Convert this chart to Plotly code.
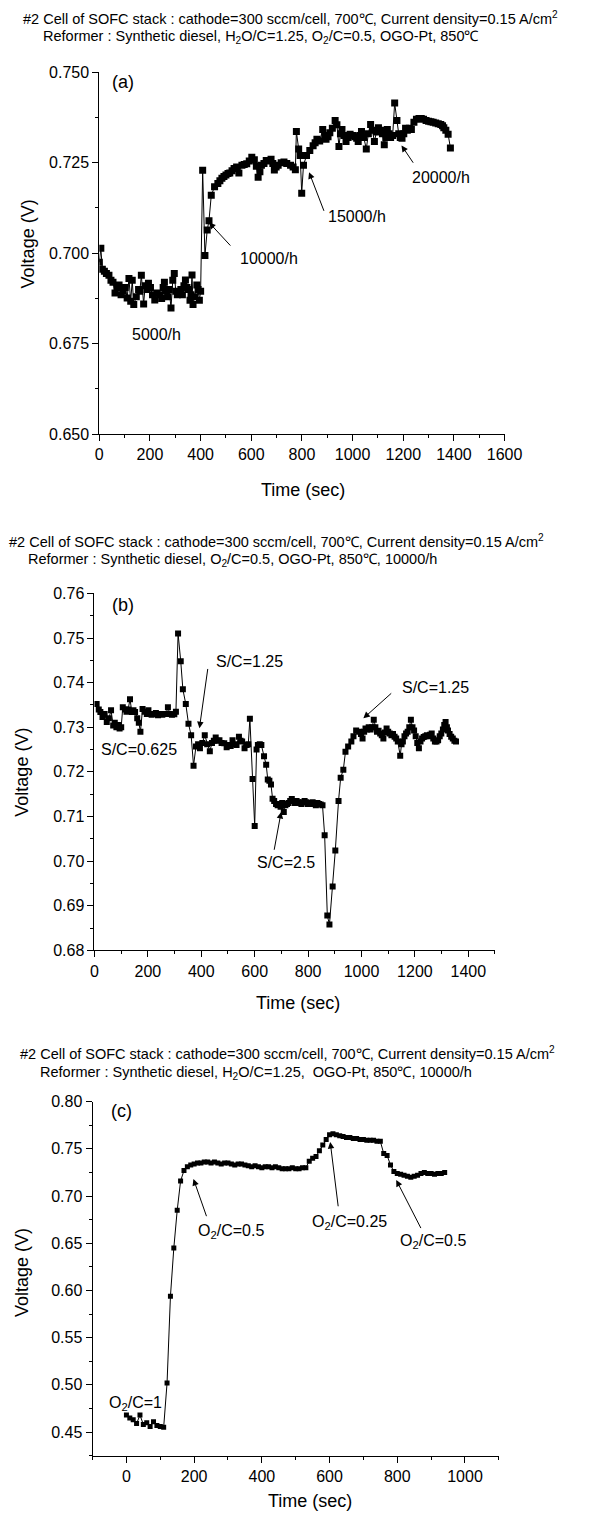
import plotly.graph_objects as go

# ---------------- data ----------------
# (a) space-velocity steps 5000/h -> 10000/h -> 15000/h -> 20000/h
time_a = [0, 6, 12, 20, 28, 38, 46, 54, 62, 70, 78, 86, 94, 102, 110, 117, 124, 130, 136, 146,
          155, 160, 166, 175, 181, 188, 194, 202, 210, 219, 228, 238, 246, 252, 257, 264, 270, 276, 283, 290,
          296, 302, 308, 316, 322, 328, 334, 340, 346, 352, 358, 362, 366, 370, 376, 385, 390, 395, 400, 408,
          417, 426, 433, 442, 455, 468, 476, 484, 492, 500, 508, 515, 524, 532, 542, 551, 563, 572, 582, 592,
          602, 612, 620, 627, 634, 640, 650, 659, 668, 678, 685, 691, 698, 706, 718, 729, 740, 755, 765, 774,
          778, 787, 793, 799, 806, 818, 831, 844, 852, 859, 870, 882, 890, 895, 903, 910, 920, 931, 938, 946,
          952, 958, 966, 974, 982, 990, 1000, 1009, 1016, 1022, 1028, 1035, 1044, 1054, 1062, 1071, 1078, 1086, 1094, 1102,
          1110, 1118, 1125, 1131, 1137, 1144, 1150, 1158, 1166, 1175, 1182, 1188, 1195, 1202, 1209, 1216, 1224, 1232, 1242, 1252,
          1262, 1271, 1280, 1290, 1300, 1309, 1318, 1328, 1338, 1348, 1355, 1360, 1368, 1377, 1386]
volt_a = [0.6975, 0.7014, 0.6956, 0.6950, 0.6944, 0.6939, 0.6925, 0.6920, 0.6890, 0.6905, 0.6912, 0.6885, 0.6895, 0.6905, 0.6876, 0.6930, 0.6867, 0.6925, 0.6858, 0.6880,
          0.6900, 0.6895, 0.6939, 0.6860, 0.6910, 0.6900, 0.6917, 0.6905, 0.6885, 0.6871, 0.6890, 0.6885, 0.6875, 0.6905, 0.6920, 0.6895, 0.6880, 0.6900, 0.6849, 0.6925,
          0.6944, 0.6895, 0.6885, 0.6890, 0.6900, 0.6885, 0.6910, 0.6926, 0.6905, 0.6900, 0.6870, 0.6885, 0.6940, 0.6858, 0.6880, 0.6912, 0.6900, 0.6870, 0.6895, 0.7229,
          0.6994, 0.7064, 0.7090, 0.7160, 0.7184, 0.7193, 0.7200, 0.7207, 0.7212, 0.7216, 0.7220, 0.7222, 0.7228, 0.7234, 0.7238, 0.7222, 0.7243, 0.7245, 0.7247, 0.7255,
          0.7265, 0.7258, 0.7240, 0.7210, 0.7225, 0.7243, 0.7248, 0.7256, 0.7255, 0.7260, 0.7248, 0.7230, 0.7238, 0.7243, 0.7250, 0.7252, 0.7248, 0.7243, 0.7238, 0.7231,
          0.7336, 0.7288, 0.7270, 0.7166, 0.7243, 0.7270, 0.7284, 0.7297, 0.7305, 0.7315, 0.7310, 0.7342, 0.7325, 0.7315, 0.7322, 0.7333, 0.7345, 0.7367, 0.7355, 0.7295,
          0.7330, 0.7342, 0.7325, 0.7309, 0.7320, 0.7329, 0.7325, 0.7322, 0.7318, 0.7309, 0.7325, 0.7336, 0.7320, 0.7288, 0.7330, 0.7356, 0.7340, 0.7309, 0.7335, 0.7347,
          0.7340, 0.7330, 0.7300, 0.7320, 0.7342, 0.7330, 0.7320, 0.7325, 0.7415, 0.7367, 0.7330, 0.7320, 0.7318, 0.7330, 0.7345, 0.7340, 0.7345, 0.7342, 0.7362, 0.7370,
          0.7372, 0.7372, 0.7370, 0.7367, 0.7365, 0.7363, 0.7362, 0.7360, 0.7358, 0.7356, 0.7352, 0.7347, 0.7340, 0.7329, 0.7291]

# (b) steam-to-carbon steps 0.625 -> 1.25 -> 2.5 -> 1.25
time_b = [8, 16, 22, 30, 38, 46, 54, 62, 70, 76, 82, 88, 94, 100, 106, 114, 120, 126, 133, 140,
          146, 152, 160, 166, 172, 180, 188, 196, 202, 206, 214, 222, 230, 238, 246, 254, 262, 268, 275, 282,
          290, 299, 305, 313, 323, 331, 342, 352, 362, 371, 380, 388, 395, 404, 413, 422, 432, 440, 447, 454,
          461, 468, 476, 486, 495, 504, 510, 517, 524, 532, 541, 547, 553, 562, 570, 576, 582, 592, 600, 607,
          612, 619, 625, 635, 643, 649, 655, 661, 667, 673, 680, 686, 691, 697, 703, 709, 715, 721, 727, 733,
          739, 745, 751, 757, 763, 769, 775, 781, 787, 793, 799, 805, 811, 817, 823, 829, 835, 841, 847, 854,
          862, 872, 880, 892, 902, 914, 922, 932, 940, 950, 962, 970, 980, 991, 998, 1004, 1010, 1015, 1021, 1027,
          1034, 1040, 1046, 1052, 1058, 1064, 1070, 1076, 1082, 1088, 1094, 1100, 1106, 1112, 1118, 1124, 1130, 1136, 1145, 1150,
          1155, 1161, 1167, 1173, 1179, 1185, 1191, 1197, 1203, 1209, 1215, 1221, 1227, 1233, 1239, 1245, 1251, 1257, 1263, 1269,
          1275, 1281, 1287, 1293, 1299, 1305, 1310, 1315, 1320, 1324, 1330, 1336, 1342, 1348, 1354]
volt_b = [0.7352, 0.7340, 0.7334, 0.7323, 0.7330, 0.7312, 0.7320, 0.7338, 0.7304, 0.7310, 0.7300, 0.7305, 0.7297, 0.7300, 0.7345, 0.7340, 0.7335, 0.7340, 0.7363, 0.7334,
          0.7338, 0.7334, 0.7320, 0.7310, 0.7290, 0.7341, 0.7335, 0.7330, 0.7338, 0.7330, 0.7328, 0.7330, 0.7332, 0.7327, 0.7330, 0.7328, 0.7330, 0.7330, 0.7345, 0.7330,
          0.7328, 0.7329, 0.7335, 0.7510, 0.7448, 0.7385, 0.7352, 0.7308, 0.7282, 0.7214, 0.7257, 0.7262, 0.7253, 0.7265, 0.7282, 0.7262, 0.7246, 0.7265, 0.7270, 0.7277,
          0.7270, 0.7271, 0.7265, 0.7264, 0.7255, 0.7260, 0.7258, 0.7271, 0.7262, 0.7260, 0.7279, 0.7270, 0.7268, 0.7253, 0.7260, 0.7262, 0.7319, 0.7184, 0.7079, 0.7250,
          0.7260, 0.7262, 0.7260, 0.7235, 0.7216, 0.7183, 0.7180, 0.7172, 0.7140, 0.7135, 0.7128, 0.7125, 0.7128, 0.7122, 0.7130, 0.7110, 0.7125, 0.7128, 0.7130, 0.7135,
          0.7139, 0.7135, 0.7130, 0.7135, 0.7132, 0.7130, 0.7128, 0.7132, 0.7135, 0.7132, 0.7128, 0.7130, 0.7128, 0.7132, 0.7128, 0.7125, 0.7130, 0.7128, 0.7127, 0.7125,
          0.7058, 0.6878, 0.6858, 0.6943, 0.7024, 0.7135, 0.7187, 0.7205, 0.7245, 0.7257, 0.7268, 0.7280, 0.7293, 0.7290, 0.7285, 0.7275, 0.7290, 0.7297, 0.7295, 0.7300,
          0.7295, 0.7300, 0.7317, 0.7300, 0.7290, 0.7292, 0.7286, 0.7282, 0.7275, 0.7288, 0.7297, 0.7290, 0.7286, 0.7282, 0.7285, 0.7279, 0.7275, 0.7268, 0.7236, 0.7262,
          0.7268, 0.7280, 0.7286, 0.7290, 0.7300, 0.7317, 0.7300, 0.7293, 0.7280, 0.7265, 0.7253, 0.7268, 0.7275, 0.7278, 0.7280, 0.7282, 0.7280, 0.7283, 0.7286, 0.7275,
          0.7268, 0.7268, 0.7271, 0.7280, 0.7286, 0.7295, 0.7305, 0.7312, 0.7300, 0.7293, 0.7285, 0.7279, 0.7275, 0.7270, 0.7268]

# (c) oxygen-to-carbon steps 1 -> 0.5 -> 0.25 -> 0.5
time_c = [0, 10, 20, 30, 40, 50, 60, 70, 80, 90, 100, 110, 120, 130, 140, 150, 160, 170, 180, 190,
          200, 210, 220, 230, 240, 250, 260, 270, 280, 290, 300, 310, 320, 330, 340, 350, 360, 370, 380, 390,
          400, 410, 420, 430, 440, 450, 460, 470, 480, 490, 500, 510, 520, 530, 540, 550, 560, 570, 580, 590,
          600, 610, 620, 630, 640, 650, 660, 670, 680, 690, 700, 710, 720, 730, 740, 750, 760, 770, 780, 790,
          800, 810, 820, 830, 840, 850, 860, 870, 880, 890, 900, 910, 920, 930, 940]
volt_c = [0.468, 0.465, 0.463, 0.459, 0.468, 0.458, 0.460, 0.456, 0.461, 0.457, 0.456, 0.455, 0.502, 0.594, 0.645, 0.685, 0.716, 0.727, 0.731, 0.733,
          0.734, 0.735, 0.735, 0.736, 0.736, 0.735, 0.736, 0.735, 0.734, 0.735, 0.735, 0.734, 0.733, 0.734, 0.734, 0.733, 0.732, 0.731, 0.732, 0.731,
          0.730, 0.731, 0.731, 0.730, 0.731, 0.730, 0.729, 0.729, 0.729, 0.730, 0.729, 0.729, 0.730, 0.730, 0.737, 0.740, 0.742, 0.748, 0.754, 0.760,
          0.765, 0.766, 0.765, 0.764, 0.763, 0.762, 0.762, 0.761, 0.761, 0.760, 0.760, 0.759, 0.759, 0.759, 0.758, 0.758, 0.745, 0.743, 0.733, 0.726,
          0.724, 0.723, 0.722, 0.721, 0.720, 0.721, 0.722, 0.724, 0.725, 0.724, 0.724, 0.723, 0.724, 0.724, 0.725]

HEAD1 = "#2 Cell of SOFC stack : cathode=300 sccm/cell, 700℃, Current density=0.15 A/cm<sup>2</sup>"
HEAD2_A = "Reformer : Synthetic diesel, H<sub>2</sub>O/C=1.25, O<sub>2</sub>/C=0.5, OGO-Pt, 850℃"
HEAD2_B = "Reformer : Synthetic diesel, O<sub>2</sub>/C=0.5, OGO-Pt, 850℃, 10000/h"
HEAD2_C = "Reformer : Synthetic diesel, H<sub>2</sub>O/C=1.25,  OGO-Pt, 850℃, 10000/h"

W, H = 590, 1524
SANS = "Liberation Sans, Arial, sans-serif"
NARROW = "Liberation Sans Narrow, Arial Narrow, Liberation Sans, sans-serif"


def px(x):
    return x / W


def py(y):
    return 1 - y / H


fig = go.Figure()

series = [
    (time_a, volt_a, "x", "y", 7),
    (time_b, volt_b, "x2", "y2", 6),
    (time_c, volt_c, "x3", "y3", 5),
]
for t, v, xa, ya, ms in series:
    fig.add_trace(go.Scatter(
        x=t, y=v, xaxis=xa, yaxis=ya, mode="lines+markers",
        line=dict(color="black", width=1),
        marker=dict(symbol="square", size=ms, color="black"),
        showlegend=False, hoverinfo="skip"))


def xaxis_style(dom, rng, dtick, minor, anchor, tick0=0):
    return dict(domain=dom, range=rng, anchor=anchor, showline=True, linecolor="black",
                linewidth=1, ticks="outside", ticklen=6, tickwidth=1, tickcolor="black",
                tick0=tick0, dtick=dtick, showgrid=False, zeroline=False,
                tickfont=dict(family=SANS, size=16, color="black"),
                minor=dict(ticks="outside", ticklen=3, tickcolor="black", dtick=minor, tick0=tick0))


def yaxis_style(dom, rng, dtick, minor, anchor, fmt, tick0):
    return dict(domain=dom, range=rng, anchor=anchor, showline=True, linecolor="black",
                linewidth=1, ticks="outside", ticklen=6, tickwidth=1, tickcolor="black",
                tick0=tick0, dtick=dtick, tickformat=fmt, showgrid=False, zeroline=False,
                tickfont=dict(family=SANS, size=16, color="black"),
                minor=dict(ticks="outside", ticklen=3, tickcolor="black", dtick=minor, tick0=tick0))


layout = dict(
    width=W, height=H, margin=dict(l=0, r=0, t=0, b=0),
    paper_bgcolor="white", plot_bgcolor="white",
    xaxis=xaxis_style([px(99), px(520)], [0, 1600], 200, 100, "y"),
    yaxis=yaxis_style([py(431), py(65)], [0.650, 0.750], 0.025, 0.0125, "x", ".3f", 0.650),
    xaxis2=xaxis_style([px(94), px(510)], [0, 1500], 200, 100, "y2"),
    yaxis2=yaxis_style([py(953), py(592)], [0.68, 0.76], 0.01, 0.005, "x2", ".2f", 0.68),
    xaxis3=xaxis_style([px(92), px(514)], [-100, 1100], 200, 100, "y3", tick0=0),
    yaxis3=yaxis_style([py(1464), py(1106)], [0.425, 0.80], 0.05, 0.025, "x3", ".2f", 0.45),
)
fig.update_layout(**layout)

ann = []


def text(x, y, s, size=16, xref="paper", yref="paper", xanchor="center", family=SANS, angle=0):
    ann.append(dict(x=x, y=y, xref=xref, yref=yref, text=s, showarrow=False,
                    xanchor=xanchor, yanchor="middle", textangle=angle,
                    font=dict(family=family, size=size, color="black")))


def arrow(xr, yr, head, tail):
    ann.append(dict(x=head[0], y=head[1], ax=tail[0], ay=tail[1], xref=xr, yref=yr,
                    axref=xr, ayref=yr, text="", showarrow=True, arrowhead=2,
                    arrowsize=1.3, arrowwidth=1, arrowcolor="black", standoff=0))


# headers (two lines above each panel)
for y1, y2, x1, x2, h2 in [(10, 29, 18, 38, HEAD2_A), (539, 558, 3, 23, HEAD2_B), (1057, 1077, 15, 35, HEAD2_C)]:
    text(px(x1), py(y1), HEAD1, size=14.5, xanchor="left", family=NARROW)
    text(px(x2), py(y2), h2, size=14.5, xanchor="left", family=NARROW)

# axis titles
for cx, cy in [(311, 487), (305, 1006), (318, 1510)]:
    text(px(cx), py(cy), "Time (sec)", size=18)
for cx, cy in [(25, 239), (19, 773), (18, 1279)]:
    text(px(cx), py(cy), "Voltage (V)", size=18, angle=-90)

# panel (a)
text(95, 0.7473, "(a)", size=18, xref="x", yref="y")
text(224, 0.6776, "5000/h", xref="x", yref="y")
text(669, 0.6986, "10000/h", xref="x", yref="y")
arrow("x", "y", (433, 0.7085), (523, 0.7017))
text(1018, 0.7101, "15000/h", xref="x", yref="y")
arrow("x", "y", (828, 0.7224), (889, 0.7113))
text(1349, 0.7208, "20000/h", xref="x", yref="y")
arrow("x", "y", (1193, 0.7298), (1243, 0.7246))

# panel (b)
text(105, 0.7573, "(b)", size=18, xref="x2", yref="y2")
text(166, 0.7250, "S/C=0.625", xref="x2", yref="y2")
text(582, 0.7447, "S/C=1.25", xref="x2", yref="y2")
arrow("x2", "y2", (393, 0.7298), (425, 0.7434))
text(719, 0.6996, "S/C=2.5", xref="x2", yref="y2")
arrow("x2", "y2", (699, 0.7110), (672, 0.7022))
text(1276, 0.7389, "S/C=1.25", xref="x2", yref="y2")
arrow("x2", "y2", (1007, 0.7320), (1117, 0.7379))

# panel (c)
text(-14, 0.7905, "(c)", size=18, xref="x3", yref="y3")
text(28, 0.4807, "O<sub>2</sub>/C=1", xref="x3", yref="y3")
text(310, 0.6624, "O<sub>2</sub>/C=0.5", xref="x3", yref="y3")
arrow("x3", "y3", (198, 0.7181), (238, 0.6771))
text(658, 0.6718, "O<sub>2</sub>/C=0.25", xref="x3", yref="y3")
arrow("x3", "y3", (602, 0.7572), (626, 0.6876))
text(906, 0.6519, "O<sub>2</sub>/C=0.5", xref="x3", yref="y3")
arrow("x3", "y3", (797, 0.7170), (872, 0.6645))

fig.update_layout(annotations=ann)
fig.write_html("out.html")
